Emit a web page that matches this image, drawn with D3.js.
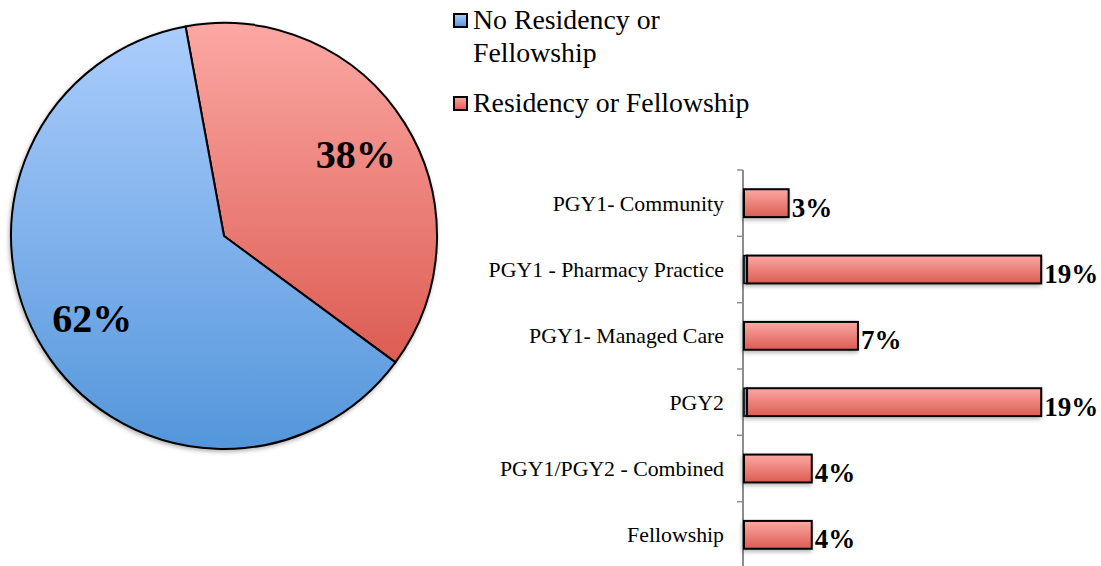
<!DOCTYPE html>
<html>
<head>
<meta charset="utf-8">
<script src="https://cdn.jsdelivr.net/npm/d3@7"></script>
<style>
  body { margin: 0; background: #fff; }
  text { font-family: "Liberation Serif", serif; fill: #000; }
</style>
</head>
<body>
<div id="chart"></div>
<script>
// pie data
const pieCategories = ["Residency or Fellowship", "No Residency or Fellowship"];
const pieValues = [38, 62];
const pieLabels = ["38%", "62%"];

// bar data (percent of graduates, labels rounded)
const barCategories = ["PGY1- Community", "PGY1 - Pharmacy Practice", "PGY1- Managed Care", "PGY2", "PGY1/PGY2 - Combined", "Fellowship"];
const barValues = [2.9, 19.1, 7.4, 19.1, 4.4, 4.4];
const barStubValues = [0, 0.2, 0, 0.2, 0, 0];
const barLabels = ["3%", "19%", "7%", "19%", "4%", "4%"];

const width = 1101, height = 566;

const svg = d3.select("#chart").append("svg")
    .attr("width", width)
    .attr("height", height);

const defs = svg.append("defs");

function addGradient(id, top, bottom){
    const g = defs.append("linearGradient")
        .attr("id", id)
        .attr("x1", 0).attr("y1", 0)
        .attr("x2", 0).attr("y2", 1);
    g.append("stop").attr("offset", "0%").attr("stop-color", top);
    g.append("stop").attr("offset", "100%").attr("stop-color", bottom);
}
addGradient("gradRed", "#fca8a4", "#dc5c52");
addGradient("gradBlue", "#abcdfc", "#5496db");

const shadow = defs.append("filter").attr("id", "shadow")
    .attr("x", "-10%").attr("y", "-10%").attr("width", "120%").attr("height", "120%");
shadow.append("feDropShadow")
    .attr("dx", -1).attr("dy", 2).attr("stdDeviation", 2)
    .attr("flood-color", "#000").attr("flood-opacity", 0.3);

const fills = ["url(#gradRed)", "url(#gradBlue)"];

// ---- pie ----
const cx = 224, cy = 236, r = 213;
const startA = -10.4 * Math.PI / 180;

const pie = d3.pie()
    .sort(null)
    .startAngle(startA)
    .endAngle(startA + 2 * Math.PI);

const arc = d3.arc().innerRadius(0).outerRadius(r);
const labelArc = d3.arc().innerRadius(r * 0.73).outerRadius(r * 0.73);

const gPie = svg.append("g").attr("transform", `translate(${cx},${cy})`);
const arcs = pie(pieValues);

gPie.append("g").attr("filter", "url(#shadow)")
    .selectAll("path")
    .data(arcs)
    .enter()
    .append("path")
    .attr("d", arc)
    .attr("fill", (d, i) => fills[i])
    .attr("stroke", "#000")
    .attr("stroke-width", 2)
    .attr("stroke-linejoin", "round");

gPie.selectAll("text.pct")
    .data(arcs)
    .enter()
    .append("text")
    .attr("class", "pct")
    .attr("transform", d => `translate(${labelArc.centroid(d)})`)
    .attr("text-anchor", "middle")
    .attr("dy", "0.35em")
    .style("font-weight", "bold")
    .style("font-size", "40px")
    .text((d, i) => pieLabels[i]);

// ---- legend ----
const legendItems = [
    { lines: ["No Residency or", "Fellowship"], fill: fills[1], y: 14 },
    { lines: [pieCategories[0]], fill: fills[0], y: 97 }
];
const gLeg = svg.append("g");
legendItems.forEach(function(item){
    gLeg.append("rect")
        .attr("x", 454).attr("y", item.y)
        .attr("width", 13).attr("height", 13)
        .attr("fill", item.fill)
        .attr("stroke", "#000")
        .attr("stroke-width", 2);
    const t = gLeg.append("text")
        .attr("x", 473)
        .attr("y", item.y + 15)
        .style("font-size", "27.8px");
    item.lines.forEach(function(l, j){
        t.append("tspan").attr("x", 473).attr("dy", j === 0 ? 0 : 33).text(l);
    });
});

// ---- bars ----
const x = d3.scaleLinear().domain([0, 20]).range([744, 1052]);
const y = d3.scaleBand()
    .domain(barCategories)
    .range([170, 568])
    .paddingInner(0.58)
    .paddingOuter(0.29);

const axisX = 743;
const gBar = svg.append("g");

gBar.append("line")
    .attr("x1", axisX).attr("x2", axisX)
    .attr("y1", 170).attr("y2", 568)
    .attr("stroke", "#8c8c8c")
    .attr("stroke-width", 2);

const step = y.step();
const tickYs = d3.range(barCategories.length + 1).map(i => y(barCategories[0]) - step * y.paddingInner() / 2 + i * step);
gBar.selectAll("line.tick")
    .data(tickYs)
    .enter()
    .append("line")
    .attr("class", "tick")
    .attr("x1", axisX - 6).attr("x2", axisX)
    .attr("y1", d => d).attr("y2", d => d)
    .attr("stroke", "#8c8c8c")
    .attr("stroke-width", 1.5);

gBar.selectAll("text.cat")
    .data(barCategories)
    .enter()
    .append("text")
    .attr("class", "cat")
    .attr("x", 724)
    .attr("y", d => y(d) + y.bandwidth() / 2)
    .attr("dy", "0.35em")
    .attr("text-anchor", "end")
    .style("font-size", "21.8px")
    .text(d => d);

const gRects = gBar.append("g").attr("filter", "url(#shadow)");

gRects.selectAll("rect.stub")
    .data(barCategories)
    .enter()
    .append("rect")
    .attr("class", "stub")
    .attr("x", x(0))
    .attr("y", d => y(d))
    .attr("width", (d, i) => x(barStubValues[i]) - x(0))
    .attr("height", y.bandwidth())
    .attr("fill", "#5b9bd5")
    .attr("stroke", (d, i) => barStubValues[i] > 0 ? "#000" : "none")
    .attr("stroke-width", 1.5);

gRects.selectAll("rect.bar")
    .data(barCategories)
    .enter()
    .append("rect")
    .attr("class", "bar")
    .attr("x", (d, i) => x(barStubValues[i]))
    .attr("y", d => y(d))
    .attr("width", (d, i) => x(barValues[i]) - x(0))
    .attr("height", y.bandwidth())
    .attr("fill", "url(#gradRed)")
    .attr("stroke", "#000")
    .attr("stroke-width", 2);

gBar.selectAll("text.val")
    .data(barCategories)
    .enter()
    .append("text")
    .attr("class", "val")
    .attr("x", (d, i) => x(barStubValues[i] + barValues[i]) + 3)
    .attr("y", d => y(d) + y.bandwidth() / 2)
    .attr("dy", "0.5em")
    .style("font-weight", "bold")
    .style("font-size", "27px")
    .text((d, i) => barLabels[i]);
</script>
</body>
</html>
